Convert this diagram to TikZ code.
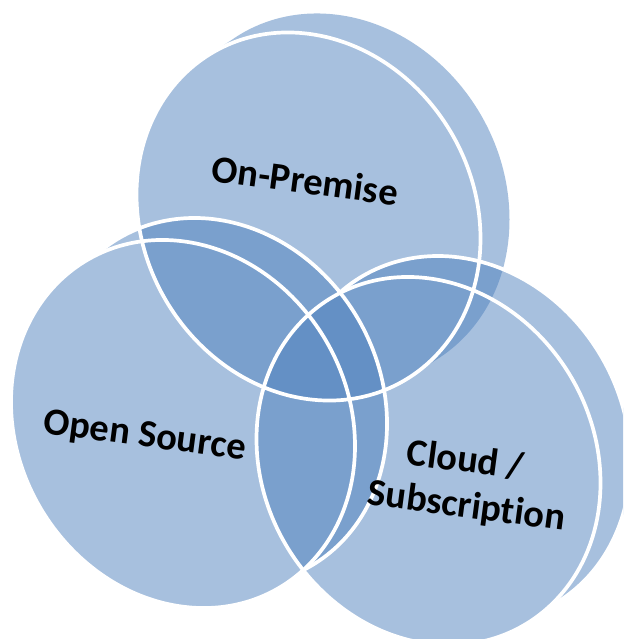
\documentclass[tikz,border=0pt]{standalone}
\usepackage{fontspec}
\setmainfont{Carlito}[Ligatures={NoCommon,NoRequired,NoContextual}]
\definecolor{discblue}{HTML}{4F81BD}
\tikzset{
  discshape/.style={fill=discblue, fill opacity=0.5},
  rimline/.style={draw=white, line width=3.7pt},
  lbl/.style={font=\bfseries\fontsize{38.5}{46}\selectfont, text=black, anchor=base, rotate=-7.5, inner sep=0pt},
}
% #1,#2 centre of front face (image px, y down); #3,#4 offset of back face
\newcommand\discbody[4]{%
  \pgfmathsetmacro\eu{(#3)/172}%
  \pgfmathsetmacro\ev{(-(#4)+22*\eu)/182.7}%
  \fill[discshape, cm={172,-22,0,182.7,(#1,-#2)}]
    (0,0) circle[radius=1]
    ({\eu/3},{\ev/3}) circle[radius=1]
    ({2*\eu/3},{2*\ev/3}) circle[radius=1]
    (\eu,\ev) circle[radius=1];
}
\newcommand\frontrim[2]{%
  \draw[rimline, cm={172,-22,0,182.7,(#1,-#2)}] (0,0) circle[radius=1];
}
\newcommand\backrim[4]{%
  \pgfmathsetmacro\eu{(#3)/172}%
  \pgfmathsetmacro\ev{(-(#4)+22*\eu)/182.7}%
  \pgfmathsetmacro\ephi{atan2(\ev,\eu)}%
  \pgfmathsetmacro\elen{sqrt(\eu*\eu+\ev*\ev)}%
  \pgfmathsetmacro\egam{180-acos(\elen/2)}%
  \pgfmathsetmacro\aone{\ephi-\egam}%
  \pgfmathsetmacro\atwo{\ephi+\egam}%
  \draw[rimline, cm={172,-22,0,182.7,(#1,-#2)}]
    ({\eu+cos(\aone)},{\ev+sin(\aone)}) arc[start angle=\aone, end angle=\atwo, radius=1];
}
\begin{document}
\begin{tikzpicture}[x=1pt,y=1pt]
\useasboundingbox (0,0) rectangle (623,-639);
\clip (0,0) rectangle (623,-639);
% disc bodies
\discbody{308.5}{216.5}{29}{-19}
\discbody{183}{424}{32}{-22}
\discbody{428.5}{461}{30}{-21}
% rims
\frontrim{308.5}{216.5}
\frontrim{183}{424}
\frontrim{428.5}{461}
\backrim{183}{424}{32}{-22}
\backrim{428.5}{461}{30}{-21}
% labels
\node[lbl] (onprem) at (303.5,-193.5) {On-Premise};
\node[lbl] (opensrc) at (143.5,-446.5) {Open Source};
\node[lbl] (cloudA) at (464,-472) {Cloud /};
\node[lbl] (cloudB) at (465,-517.5) {Subscription};
\end{tikzpicture}
\end{document}
